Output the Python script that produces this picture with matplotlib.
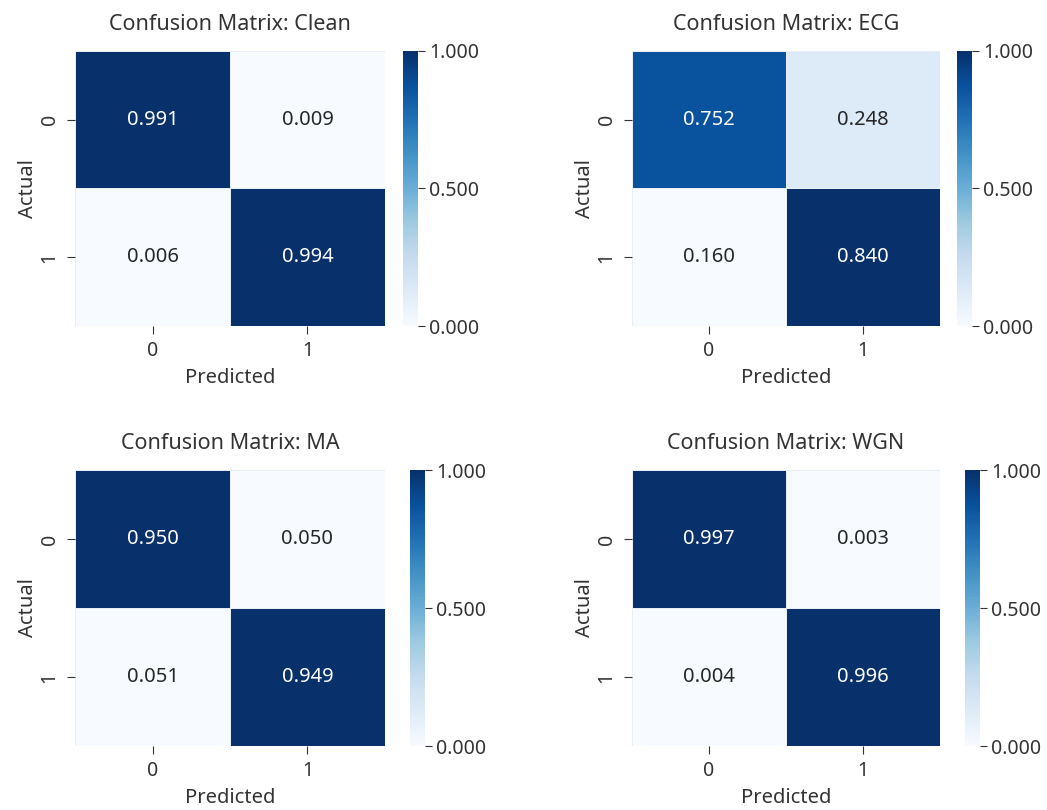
import numpy as np
import matplotlib
matplotlib.use("Agg")
import matplotlib.pyplot as plt
import seaborn as sns

plt.rcParams['font.family'] = ['Noto Sans', 'DejaVu Sans']
plt.rcParams['text.color'] = '#333333'
plt.rcParams['axes.labelcolor'] = '#333333'
plt.rcParams['xtick.color'] = '#333333'
plt.rcParams['ytick.color'] = '#333333'

# Row-normalised confusion matrices per noise condition
conditions = ["Clean", "ECG", "MA", "WGN"]
cm_clean = [[0.991, 0.009], [0.006, 0.994]]
cm_ecg = [[0.752, 0.248], [0.160, 0.840]]
cm_ma = [[0.950, 0.050], [0.051, 0.949]]
cm_wgn = [[0.997, 0.003], [0.004, 0.996]]
class_labels = ["0", "1"]
cbar_ticks = [0.0, 0.5, 1.0]

matrices = [cm_clean, cm_ecg, cm_ma, cm_wgn]

W, H = 1047, 810
fig = plt.figure(figsize=(W / 100, H / 100), dpi=100)

# pixel boxes: (heatmap left, top, right, bottom, colorbar left)
boxes = [
    (75, 51, 385, 326, 403),
    (632, 51, 940, 326, 957),
    (75, 470, 385, 746, 410),
    (632, 470, 940, 746, 965),
]

def frac(l, t, r, b):
    return [l / W, (H - b) / H, (r - l) / W, (b - t) / H]

for name, cm, (l, t, r, b, cl) in zip(conditions, matrices, boxes):
    ax = fig.add_axes(frac(l, t, r, b))
    cax = fig.add_axes(frac(cl, t, cl + 15, b))
    raw = np.array(cm)
    # colour shading is stretched over each matrix's own range
    shade = (raw - raw.min()) / (raw.max() - raw.min())
    sns.heatmap(shade, annot=raw, fmt=".3f", cmap="Blues",
                vmin=0, vmax=1, linewidths=0.4, linecolor="#e8eef6",
                xticklabels=class_labels, yticklabels=class_labels,
                annot_kws={"fontsize": 14.5},
                ax=ax, cbar_ax=cax,
                cbar_kws={"ticks": cbar_ticks, "format": "%.3f"})
    ax.set_title(f"Confusion Matrix: {name}", fontsize=15.5, pad=15)
    ax.set_xlabel("Predicted", fontsize=14.5, labelpad=5)
    ax.set_ylabel("Actual", fontsize=14.5, labelpad=1)
    ax.tick_params(labelsize=14, length=6, pad=5)
    for lbl in ax.get_yticklabels():
        lbl.set_rotation(90)
        lbl.set_va("center")
    cax.tick_params(labelsize=14, length=5, pad=3)
    cax.set_yticks(cbar_ticks)

fig.savefig("out.png", dpi=100)
